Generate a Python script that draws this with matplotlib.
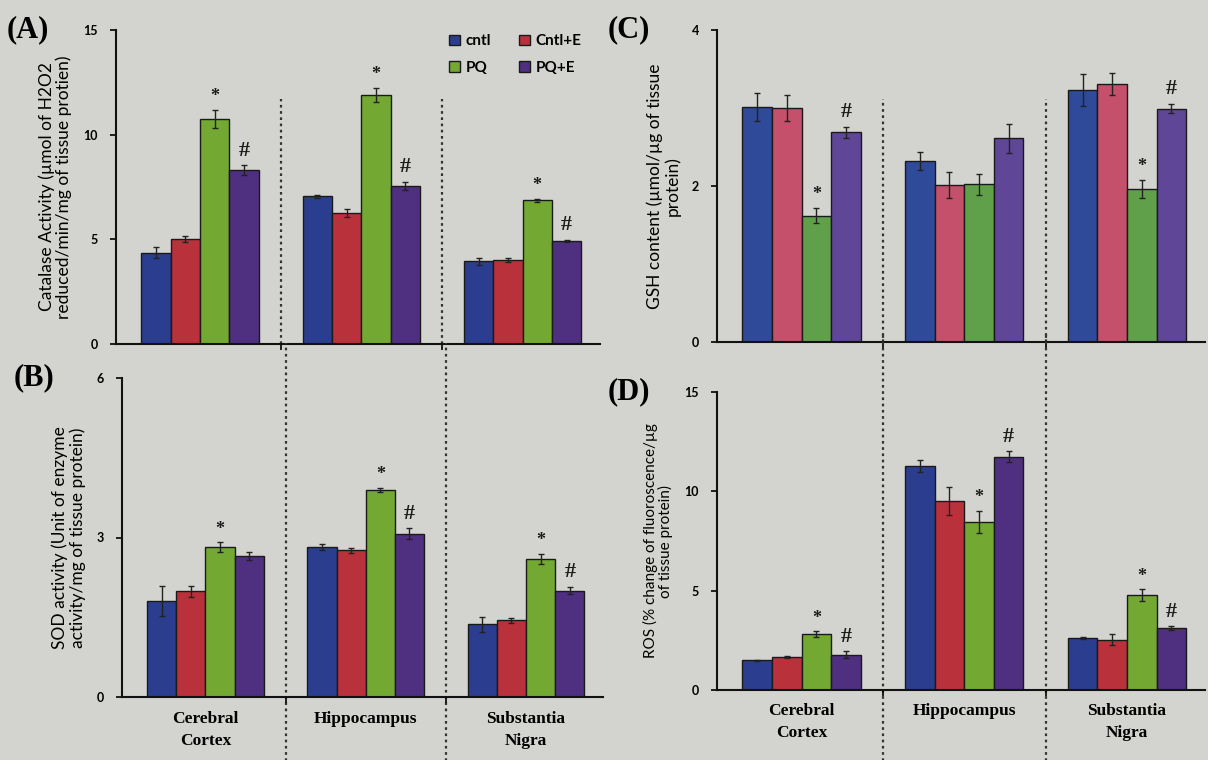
import numpy as np
import matplotlib.pyplot as plt

regions = ["Cerebral\nCortex", "Hippocampus", "Substantia\nNigra"]
groups = ["cntl", "Cntl+E", "PQ", "PQ+E"]

# catalase (A)
cat_mean = [[4.37, 7.06, 3.95], [5.0, 6.27, 4.02], [10.75, 11.9, 6.87], [8.3, 7.54, 4.92]]
cat_err = [[0.24, 0.08, 0.17], [0.15, 0.2, 0.1], [0.45, 0.32, 0.08], [0.24, 0.2, 0.05]]
cat_marks = [["", "", ""], ["", "", ""], ["*", "*", "*"], ["#", "#", "#"]]

# SOD (B)
sod_mean = [[1.8, 2.82, 1.37], [1.99, 2.76, 1.44], [2.82, 3.9, 2.6], [2.65, 3.07, 2.0]]
sod_err = [[0.28, 0.05, 0.14], [0.1, 0.05, 0.05], [0.09, 0.04, 0.09], [0.08, 0.1, 0.07]]
sod_marks = [["", "", ""], ["", "", ""], ["*", "*", "*"], ["", "#", "#"]]

# GSH (C)
gsh_mean = [[3.01, 2.32, 3.23], [3.0, 2.01, 3.31], [1.62, 2.02, 1.96], [2.69, 2.61, 2.99]]
gsh_err = [[0.18, 0.11, 0.2], [0.17, 0.17, 0.14], [0.1, 0.14, 0.12], [0.07, 0.19, 0.06]]
gsh_marks = [["", "", ""], ["", "", ""], ["*", "", "*"], ["#", "", "#"]]

# ROS (D)
ros_mean = [[1.5, 11.28, 2.63], [1.67, 9.53, 2.53], [2.8, 8.47, 4.78], [1.78, 11.75, 3.12]]
ros_err = [[0.03, 0.3, 0.05], [0.05, 0.7, 0.27], [0.15, 0.55, 0.3], [0.17, 0.28, 0.1]]
ros_marks = [["", "", ""], ["", "", ""], ["*", "*", "*"], ["#", "#", "#"]]

bg = "#d3d4d0"
cols_dark = ["#2b3d8e", "#b9313b", "#73a833", "#4f2f80"]
cols_light = ["#304a9a", "#c4506b", "#61a04b", "#5f4697"]

plt.rcParams["font.family"] = ["Lato", "DejaVu Sans"]
fig = plt.figure(figsize=(12.08, 7.6), dpi=100, facecolor=bg)

W = 1208.0
H = 760.0


def box(l, t, r, b):
    return [l / W, 1 - b / H, (r - l) / W, (b - t) / H]


def panel(rect, means, errs, marks, ymax, yticks, ylabel, letter, cols,
          xlabels, div_top, div_bot, lab_y, ylab_size=12.5):
    ax = fig.add_axes(rect)
    ax.set_facecolor(bg)
    x = np.arange(len(regions))
    w = 0.182
    for i in range(len(groups)):
        xs = x + (i - 1.5) * w
        ax.bar(xs, means[i], w, color=cols[i], edgecolor="#1a1a1a", linewidth=1.0,
               yerr=errs[i], error_kw=dict(ecolor="#222222", elinewidth=1, capsize=2.5,
                                            capthick=1), label=groups[i], zorder=2)
        for j in range(len(regions)):
            if marks[i][j]:
                y = means[i][j] + errs[i][j] + ymax * 0.015
                ax.text(xs[j], y, marks[i][j], ha="center", va="bottom",
                        fontsize=16 if marks[i][j] == "#" else 13,
                        family="Liberation Serif", fontweight="bold", color="#1a1a1a")
    ax.set_xlim(-0.52, 2.48)
    ax.set_ylim(0, ymax)
    ax.set_yticks(yticks)
    ax.set_yticklabels([str(t) for t in yticks], fontsize=9, fontweight="bold")
    ax.tick_params(axis="y", length=4, width=1.2, pad=9)
    for s in ["top", "right"]:
        ax.spines[s].set_visible(False)
    for s in ["left", "bottom"]:
        ax.spines[s].set_linewidth(1.5)
        ax.spines[s].set_color("#111111")
    ax.set_xticks([0.5, 1.5])
    ax.set_xticklabels([])
    ax.tick_params(axis="x", length=4, width=1.2, direction="out")
    if xlabels:
        for j, r in enumerate(regions):
            ax.text(j, lab_y, r, transform=ax.get_xaxis_transform(), ha="center", va="top",
                    fontsize=12.5, family="Liberation Serif", fontweight="bold",
                    linespacing=1.5)
    ax.set_ylabel(ylabel, fontsize=ylab_size, labelpad=8, linespacing=1.05)
    ax.text(-0.225, 1.0, letter, transform=ax.transAxes, ha="left", va="center",
            fontsize=22, family="Liberation Serif", fontweight="bold")
    for d in [0.5, 1.5]:
        ax.axvline(d, ymin=div_bot, ymax=div_top, color="#333333", linestyle=(0, (1.2, 1.6)),
                   linewidth=1.6, clip_on=False, zorder=1)
    return ax


axA = panel(box(116, 30, 600, 344), cat_mean, cat_err, cat_marks, 15, [0, 5, 10, 15],
            "Catalase Activity (µmol of H2O2\nreduced/min/mg of tissue protien)", "(A)",
            cols_dark, False, 0.78, 0.0, 0)
axB = panel(box(122, 378, 603, 697), sod_mean, sod_err, sod_marks, 6, [0, 3, 6],
            "SOD activity (Unit of enzyme\nactivity/mg of tissue protein)", "(B)",
            cols_dark, True, 1.11, -0.2, -0.045)
axC = panel(box(717, 30, 1205, 342), gsh_mean, gsh_err, gsh_marks, 4, [0, 2, 4],
            "GSH content (µmol/µg of tissue\nprotein)", "(C)",
            cols_light, False, 0.78, 0.0, 0)
axD = panel(box(717, 392, 1205, 690), ros_mean, ros_err, ros_marks, 15, [0, 5, 10, 15],
            "ROS (% change of fluoroscence/µg\nof tissue protein)", "(D)",
            cols_dark, True, 1.2, -0.24, -0.045, ylab_size=11)

h, l = axA.get_legend_handles_labels()
order = [0, 2, 1, 3]
axA.legend([h[k] for k in order], [l[k] for k in order], loc="upper left",
           bbox_to_anchor=(0.66, 1.03), ncol=2, frameon=False,
           handlelength=0.7, handleheight=0.7, handletextpad=0.4, columnspacing=1.8,
           labelspacing=0.8, prop={"size": 11, "weight": "bold"})

fig.savefig("out.png", dpi=100, facecolor=bg)
